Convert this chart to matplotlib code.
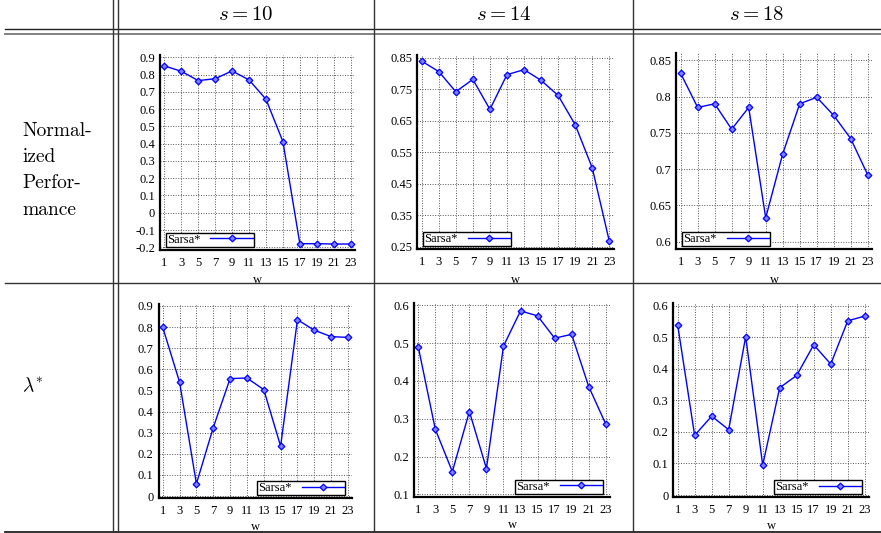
import matplotlib
matplotlib.use("Agg")
import matplotlib.pyplot as plt
from matplotlib.lines import Line2D

plt.rcParams["mathtext.fontset"] = "cm"

W, H = 881, 533

w_vals = [1, 3, 5, 7, 9, 11, 13, 15, 17, 19, 21, 23]

column_titles = [r"$s=10$", r"$s=14$", r"$s=18$"]
row_titles = ["Normal-\nized\nPerfor-\nmance", r"$\lambda^{*}$"]

perf_s10 = [0.850, 0.819, 0.765, 0.776, 0.821, 0.769, 0.657, 0.412, -0.179, -0.179, -0.181, -0.181]
perf_s14 = [0.839, 0.806, 0.742, 0.781, 0.686, 0.796, 0.812, 0.778, 0.730, 0.637, 0.500, 0.267]
perf_s18 = [0.832, 0.785, 0.790, 0.755, 0.785, 0.633, 0.721, 0.790, 0.799, 0.774, 0.742, 0.692]
lam_s10 = [0.799, 0.540, 0.058, 0.324, 0.556, 0.559, 0.504, 0.236, 0.835, 0.785, 0.755, 0.751]
lam_s14 = [0.490, 0.272, 0.160, 0.319, 0.168, 0.492, 0.585, 0.572, 0.513, 0.523, 0.385, 0.286]
lam_s18 = [0.539, 0.189, 0.250, 0.207, 0.502, 0.095, 0.340, 0.379, 0.476, 0.415, 0.552, 0.567]

perf_ticks_s10 = [-0.2, -0.1, 0, 0.1, 0.2, 0.3, 0.4, 0.5, 0.6, 0.7, 0.8, 0.9]
perf_ticks_s14 = [0.25, 0.35, 0.45, 0.55, 0.65, 0.75, 0.85]
perf_ticks_s18 = [0.6, 0.65, 0.7, 0.75, 0.8, 0.85]
lam_ticks_s10 = [0, 0.1, 0.2, 0.3, 0.4, 0.5, 0.6, 0.7, 0.8, 0.9]
lam_ticks_s14 = [0.1, 0.2, 0.3, 0.4, 0.5, 0.6]
lam_ticks_s18 = [0, 0.1, 0.2, 0.3, 0.4, 0.5, 0.6]

series_name = "Sarsa*"

# (left, top, right, bottom) in pixels, y-limits, legend corner, xlabel pad
panels = [
    (perf_s10, perf_ticks_s10, (160.1, 55.0, 354.9, 249.6), None, "lower left", 4),
    (perf_s14, perf_ticks_s14, (417.4, 55.4, 613.6, 249.0), None, "lower left", 4),
    (perf_s18, perf_ticks_s18, (676.4, 53.0, 872.0, 249.0), (0.59, 0.86), "lower left", 4),
    (lam_s10, lam_ticks_s10, (158.5, 303.7, 352.2, 498.3), None, "lower right", 2.5),
    (lam_s14, lam_ticks_s14, (414.0, 303.0, 610.0, 496.6), None, "lower right", 2.5),
    (lam_s18, lam_ticks_s18, (673.4, 303.4, 869.0, 497.3), None, "lower right", 2.5),
]

fig = plt.figure(figsize=(W / 100, H / 100), dpi=100)
fig.patch.set_facecolor("white")

tick_font = {"family": "Liberation Serif", "size": 9}

for vals, ticks, (l, t, r, b), ylim, legloc, lpad in panels:
    ax = fig.add_axes([l / W, 1 - b / H, (r - l) / W, (b - t) / H])
    ax.plot(w_vals, vals, color="#0000ff", lw=1.0, marker="D", ms=3.4,
            mfc="#7f7fff", mec="#0000ff", mew=0.9, label=series_name)
    ax.set_xlim(0.5, 23.5)
    if ylim is None:
        span = ticks[-1] - ticks[0]
        ylim = (ticks[0] - 0.012 * span, ticks[-1] + 0.012 * span)
    ax.set_ylim(*ylim)
    ax.set_xticks(w_vals)
    ax.set_yticks(ticks)
    ax.set_xticklabels([str(v) for v in w_vals], fontdict=tick_font)
    ax.set_yticklabels([f"{v:g}" for v in ticks], fontdict=tick_font)
    ax.tick_params(length=0, pad=3.5)
    ax.tick_params(axis="x", pad=5)
    ax.set_xlabel("w", fontdict=tick_font, labelpad=lpad)
    ax.grid(True, color="#555555", linestyle=(0, (1.0, 1.6)), linewidth=0.7)
    ax.set_axisbelow(True)
    for side in ("top", "right"):
        ax.spines[side].set_visible(False)
    for side in ("left", "bottom"):
        ax.spines[side].set_linewidth(1.6)
        ax.spines[side].set_color("black")
    if legloc == "lower left":
        anchor = (0.03, 0.015)
    else:
        anchor = (0.965, 0.015)
    leg = ax.legend(loc=legloc, bbox_to_anchor=anchor, borderaxespad=0,
                    markerfirst=False, numpoints=1, handlelength=3.4,
                    handletextpad=0.8, borderpad=0.08, fancybox=False,
                    framealpha=1, edgecolor="black",
                    prop={"family": "Liberation Serif", "size": 9})
    leg.get_frame().set_linewidth(1.0)

# table rules
rule = dict(color="#333333", lw=1.0, transform=fig.transFigure)
def hline(y, x0=5, x1=881, **kw):
    fig.add_artist(Line2D([x0 / W, x1 / W], [1 - y / H, 1 - y / H], **{**rule, **kw}))
def vline(x, y0=0, y1=532, **kw):
    fig.add_artist(Line2D([x / W, x / W], [1 - y0 / H, 1 - y1 / H], **{**rule, **kw}))

hline(29.3, color="#222222")
hline(34.3, color="#777777", lw=1.3)
hline(283.3)
hline(532, color="#222222", lw=1.3)
vline(113)
vline(118)
vline(373.7)
vline(632.5)

col_centers = [246, 503.5, 757]
for cx, title in zip(col_centers, column_titles):
    fig.text(cx / W, 1 - 14 / H, title, ha="center", va="center", fontsize=15)

fig.text(22 / W, 1 - 122 / H, row_titles[0], ha="left", va="top",
         fontsize=14, family="cmr10", linespacing=1.6)
fig.text(22 / W, 1 - 386 / H, row_titles[1], ha="left", va="center", fontsize=14)

fig.savefig("out.png", dpi=100, facecolor="white")
